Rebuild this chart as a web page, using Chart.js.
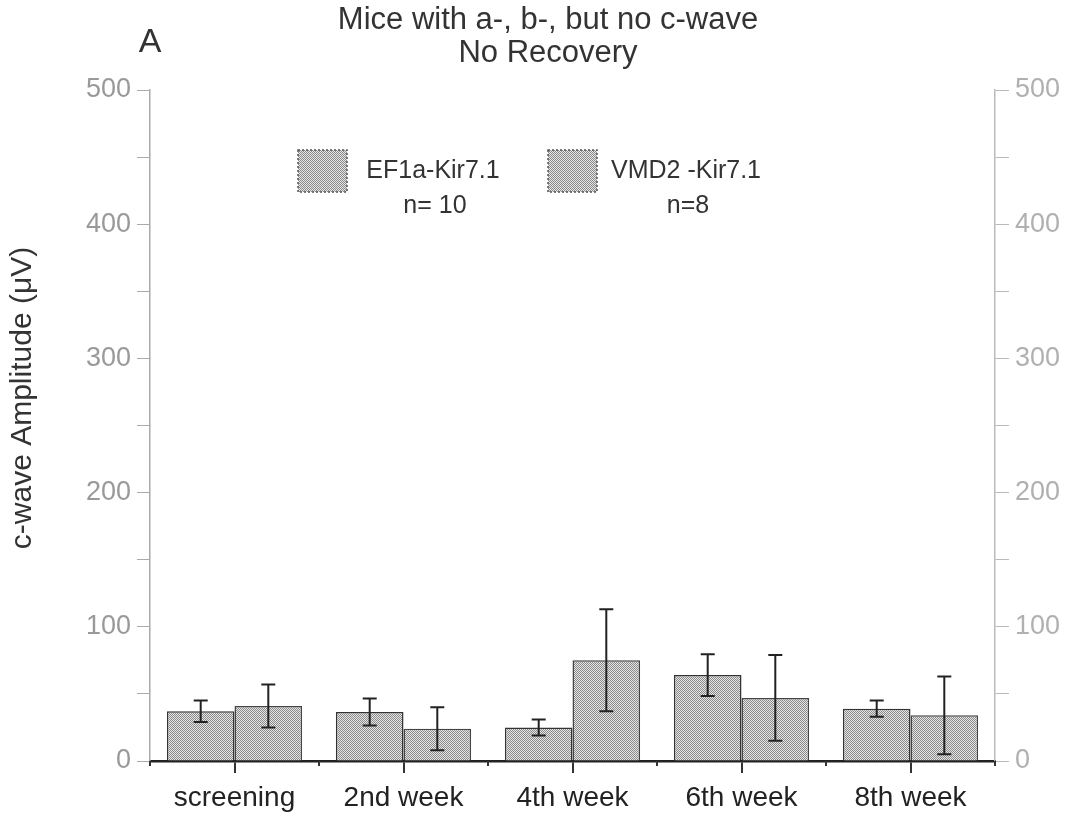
<!DOCTYPE html>
<html>
<head>
<meta charset="utf-8">
<script src="https://cdn.jsdelivr.net/npm/chart.js@4/dist/chart.umd.min.js"></script>
<style>
html,body{margin:0;padding:0;background:#fff;}
#wrap{position:relative;width:1078px;height:819px;}
</style>
</head>
<body>
<div id="wrap"><canvas id="c" width="1078" height="819"></canvas></div>
<script>
const categories = ['screening', '2nd week', '4th week', '6th week', '8th week'];
const seriesNames = ['EF1a-Kir7.1', 'VMD2 -Kir7.1'];
const seriesN = ['n= 10', 'n=8'];
const ef1aValues = [37, 36.5, 25, 64, 39];
const ef1aErrors = [8, 10, 6, 15.5, 6];
const vmd2Values = [41, 24, 75, 47, 34];
const vmd2Errors = [16, 16, 38, 32, 29];
const yTicks = [0, 100, 200, 300, 400, 500];
const titleLines = ['Mice with a-, b-, but no c-wave', 'No Recovery'];
const panelLabel = 'A';
const yTitle = 'c-wave Amplitude (\u03bcV)';

const FONT = "'Liberation Sans', Arial, sans-serif";

function makePattern() {
  const pc = document.createElement('canvas');
  pc.width = 2; pc.height = 2;
  const p = pc.getContext('2d');
  p.fillStyle = '#e6e6e6'; p.fillRect(0, 0, 2, 2);
  p.fillStyle = '#8a8a8a';
  p.fillRect(0, 0, 1, 1); p.fillRect(1, 1, 1, 1);
  return document.getElementById('c').getContext('2d').createPattern(pc, 'repeat');
}
const pat = makePattern();

const errorsBySeries = [ef1aErrors, vmd2Errors];

const errorBarPlugin = {
  id: 'errorBars',
  afterDatasetsDraw(chart) {
    const ctx = chart.ctx;
    const y = chart.scales.y;
    ctx.save();
    ctx.strokeStyle = '#222';
    ctx.lineWidth = 2;
    chart.data.datasets.forEach((ds, di) => {
      const meta = chart.getDatasetMeta(di);
      meta.data.forEach((bar, i) => {
        const v = ds.data[i], e = errorsBySeries[di][i];
        const x = bar.x;
        const yt = y.getPixelForValue(v + e), yb = y.getPixelForValue(v - e);
        ctx.beginPath();
        ctx.moveTo(x, yt); ctx.lineTo(x, yb);
        ctx.moveTo(x - 7, yt); ctx.lineTo(x + 7, yt);
        ctx.moveTo(x - 7, yb); ctx.lineTo(x + 7, yb);
        ctx.stroke();
      });
    });
    ctx.restore();
  }
};

const decorPlugin = {
  id: 'decor',
  afterDraw(chart) {
    const ctx = chart.ctx;
    const xs = chart.scales.x;
    const area = chart.chartArea;
    ctx.save();
    // small boundary ticks on x axis
    ctx.strokeStyle = '#333'; ctx.lineWidth = 2;
    const half = (xs.getPixelForValue(1) - xs.getPixelForValue(0)) / 2;
    for (let i = 0; i <= categories.length; i++) {
      const px = xs.getPixelForValue(i) - half;
      ctx.beginPath(); ctx.moveTo(px, area.bottom); ctx.lineTo(px, area.bottom + 5); ctx.stroke();
    }
    // title
    ctx.fillStyle = '#333';
    ctx.textAlign = 'center'; ctx.textBaseline = 'middle';
    ctx.font = '31px ' + FONT;
    ctx.fillText(titleLines[0], 548, 20);
    ctx.fillText(titleLines[1], 548, 53);
    ctx.font = '34px ' + FONT;
    ctx.fillText(panelLabel, 150, 43);
    // y title
    ctx.save();
    ctx.translate(23, 398);
    ctx.rotate(-Math.PI / 2);
    ctx.font = '30px ' + FONT;
    ctx.fillText(yTitle, 0, 0);
    ctx.restore();
    // legend
    const boxes = [[298, 150], [548, 150]];
    const textX = [433, 686];
    boxes.forEach((b, i) => {
      ctx.fillStyle = pat;
      ctx.fillRect(b[0], b[1], 49, 42);
      ctx.strokeStyle = '#555'; ctx.lineWidth = 1.5;
      ctx.setLineDash([2, 2]);
      ctx.strokeRect(b[0], b[1], 49, 42);
      ctx.setLineDash([]);
      ctx.fillStyle = '#333';
      ctx.font = '25px ' + FONT;
      ctx.textAlign = 'center';
      ctx.fillText(seriesNames[i], textX[i], 171);
      ctx.fillText(seriesN[i], textX[i] + 2, 206);
    });
    ctx.restore();
  }
};

const yTickCallback = v => (yTicks.includes(v) ? String(v) : '');

new Chart(document.getElementById('c'), {
  type: 'bar',
  data: {
    labels: categories,
    datasets: [
      { label: seriesNames[0], data: ef1aValues, backgroundColor: pat, borderColor: '#333', borderWidth: 1.5, categoryPercentage: 0.8, barPercentage: 1.0, yAxisID: 'y' },
      { label: seriesNames[1], data: vmd2Values, backgroundColor: pat, borderColor: '#444', borderWidth: 1.5, categoryPercentage: 0.8, barPercentage: 1.0, yAxisID: 'y' }
    ]
  },
  options: {
    responsive: false,
    animation: false,
    devicePixelRatio: 1,
    layout: { padding: { top: 90, left: 0, right: 0, bottom: 0 } },
    plugins: { legend: { display: false }, title: { display: false }, tooltip: { enabled: false } },
    scales: {
      x: {
        position: 'bottom',
        grid: { display: true, drawOnChartArea: false, offset: false, tickLength: 12, color: '#333', lineWidth: 2 },
        border: { display: true, color: '#222', width: 2.5 },
        ticks: { color: '#222', font: { family: FONT, size: 28 }, padding: 8 },
        afterFit(s) { s.height = 58; }
      },
      y: {
        position: 'left',
        min: 0, max: 500,
        ticks: { stepSize: 50, autoSkip: false, callback: yTickCallback, color: '#999', font: { family: FONT, size: 27 }, padding: 6 },
        grid: { drawOnChartArea: false, tickLength: 13, color: '#aaa' },
        border: { display: true, color: '#aaa', width: 1.5, dash: [2, 2] },
        title: { display: false },
        afterFit(s) { s.width = 150; }
      },
      y2: {
        position: 'right',
        min: 0, max: 500,
        ticks: { stepSize: 50, autoSkip: false, callback: yTickCallback, color: '#b0b0b0', font: { family: FONT, size: 27 }, padding: 6 },
        grid: { drawOnChartArea: false, tickLength: 14, color: '#bbb' },
        border: { display: true, color: '#bbb', width: 1.5, dash: [2, 2] },
        afterFit(s) { s.width = 83; }
      }
    }
  },
  plugins: [errorBarPlugin, decorPlugin]
});
</script>
</body>
</html>
